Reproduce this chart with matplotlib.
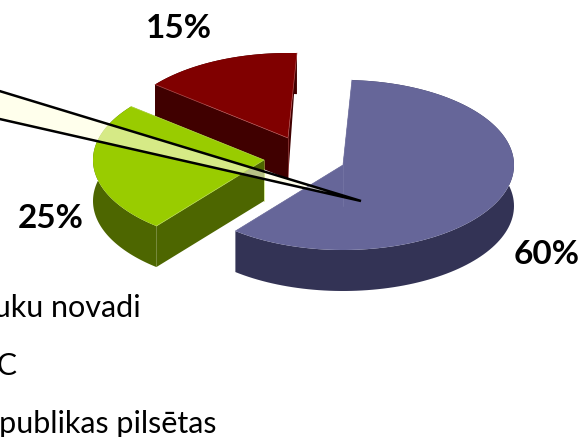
import numpy as np
import matplotlib
matplotlib.use("Agg")
import matplotlib.pyplot as plt

plt.rcParams['font.family'] = ['Lato', 'DejaVu Sans']

# Data
categories = ["Lauku novadi", "AC", "Republikas pilsētas"]
shares = [60, 25, 15]
share_labels = ["60%", "25%", "15%"]

# Look of each slice
top_colors = ["#666699", "#99CC00", "#800000"]
side_colors = ["#333355", "#4D6600", "#400000"]
edge_colors = ["#7A7AA8", "#B4D84C", "#B05050"]
slice_apex = [(343, 165), (264, 160), (288, 138)]
label_pos = [(547, 255), (51, 218), (179, 28)]
legend_pos = [(141, 308), (18, 366), (216, 424)]

RX, RY = 171, 85
DEPTH = 41
START_ANGLE = 87


def ring_point(apex, angle):
    a = np.radians(angle)
    return apex[0] + RX * np.cos(a), apex[1] - RY * np.sin(a)


def sector_outline(apex, a1, a2):
    angles = np.linspace(a1, a2, 120)
    xs = apex[0] + RX * np.cos(np.radians(angles))
    ys = apex[1] - RY * np.sin(np.radians(angles))
    return np.r_[apex[0], xs], np.r_[apex[1], ys]


# Draw one extruded slice, walls first and the top face over them
def draw_slice(ax, apex, a1, a2, top, side, edge):
    xs, ys = sector_outline(apex, a1, a2)

    # outer rim wall
    ax.fill(np.r_[xs[1:], xs[1:][::-1]], np.r_[ys[1:], ys[1:][::-1] + DEPTH],
            color=side, lw=0)

    # wall on the a2 edge runs out to nothing at the back, like in perspective
    p2 = ring_point(apex, a2)
    ax.fill([p2[0], apex[0], apex[0]], [p2[1], apex[1], apex[1] + DEPTH],
            color=side, lw=0)

    # wall on the a1 edge
    p1 = ring_point(apex, a1)
    ax.fill([p1[0], apex[0], apex[0], p1[0]],
            [p1[1], apex[1], apex[1] + DEPTH, p1[1] + DEPTH],
            color=side, lw=0)
    ax.plot([apex[0], apex[0]], [apex[1], apex[1] + DEPTH], color=edge, lw=0.4)

    ax.fill(xs, ys, color=top, lw=0)
    ax.plot([p2[0], apex[0], p1[0]], [p2[1], apex[1], p1[1]], color=edge, lw=0.5)


fig = plt.figure(figsize=(5.82, 4.37), dpi=100)
ax = fig.add_axes([0, 0, 1, 1])
ax.set_xlim(0, 582)
ax.set_ylim(437, 0)
ax.axis('off')

# Slice angles go clockwise from the start angle
spans = [s / sum(shares) * 360 for s in shares]
starts = START_ANGLE - np.r_[0, np.cumsum(spans)[:-1]]

# Painter's order: back slice first
for i in [2, 1, 0]:
    draw_slice(ax, slice_apex[i], starts[i], starts[i] - spans[i],
               top_colors[i], side_colors[i], edge_colors[i])

# Callout wedge coming in from the left
ax.fill([-40, 361, -40], [79, 201, 110], facecolor="#FFFFE0", alpha=0.6, lw=0)
ax.plot([-40, 361, -40], [79, 201, 110], color="black", lw=1.8,
        solid_joinstyle='miter')

for lab, (x, y) in zip(share_labels, label_pos):
    ax.text(x, y, lab, fontsize=24, fontweight='bold', color="black",
            ha='center', va='center')

for cat, (x, y) in zip(categories, legend_pos):
    ax.text(x, y, cat, fontsize=22, color="black", ha='right', va='center')

fig.savefig("out.png", dpi=100)
